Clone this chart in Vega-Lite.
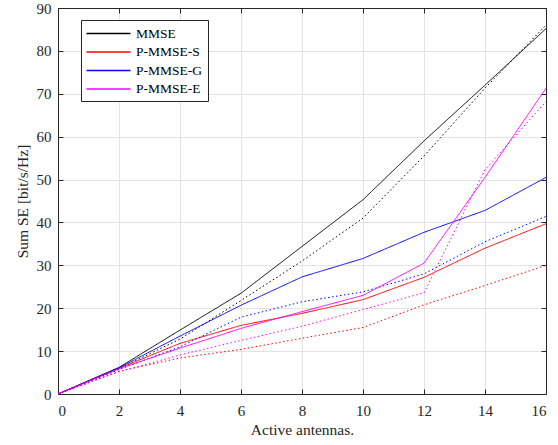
{
  "$schema": "https://vega.github.io/schema/vega-lite/v6.json",
  "autosize": "none",
  "width": 488,
  "height": 386,
  "padding": {"left": 58, "top": 8, "right": 12, "bottom": 51},
  "background": "white",
  "config": {
    "view": {"stroke": "#262626", "strokeWidth": 1},
    "font": "Liberation Serif",
    "axis": {
      "labelFont": "Liberation Serif",
      "titleFont": "Liberation Serif",
      "labelFontSize": 15,
      "titleFontSize": 15.5,
      "labelColor": "#262626",
      "titleColor": "#262626",
      "titleFontWeight": "normal",
      "domainColor": "#262626",
      "tickColor": "#262626",
      "gridColor": "#e3e3e3",
      "gridWidth": 1
    }
  },
  "data": {
    "values": [
      {"x": 0, "y": 0, "method": "MMSE", "kind": "solid"},
      {"x": 2, "y": 6.2, "method": "MMSE", "kind": "solid"},
      {"x": 4, "y": 14.9, "method": "MMSE", "kind": "solid"},
      {"x": 6, "y": 23.5, "method": "MMSE", "kind": "solid"},
      {"x": 8, "y": 34.4, "method": "MMSE", "kind": "solid"},
      {"x": 10, "y": 45.3, "method": "MMSE", "kind": "solid"},
      {"x": 12, "y": 59.0, "method": "MMSE", "kind": "solid"},
      {"x": 14, "y": 72.0, "method": "MMSE", "kind": "solid"},
      {"x": 16, "y": 85.2, "method": "MMSE", "kind": "solid"},
      {"x": 0, "y": 0, "method": "MMSE", "kind": "dotted"},
      {"x": 2, "y": 5.9, "method": "MMSE", "kind": "dotted"},
      {"x": 4, "y": 12.8, "method": "MMSE", "kind": "dotted"},
      {"x": 6, "y": 21.8, "method": "MMSE", "kind": "dotted"},
      {"x": 8, "y": 31.0, "method": "MMSE", "kind": "dotted"},
      {"x": 10, "y": 41.0, "method": "MMSE", "kind": "dotted"},
      {"x": 12, "y": 55.5, "method": "MMSE", "kind": "dotted"},
      {"x": 14, "y": 71.3, "method": "MMSE", "kind": "dotted"},
      {"x": 16, "y": 86.0, "method": "MMSE", "kind": "dotted"},
      {"x": 0, "y": 0, "method": "P-MMSE-S", "kind": "solid"},
      {"x": 2, "y": 6.0, "method": "P-MMSE-S", "kind": "solid"},
      {"x": 4, "y": 11.8, "method": "P-MMSE-S", "kind": "solid"},
      {"x": 6, "y": 16.0, "method": "P-MMSE-S", "kind": "solid"},
      {"x": 8, "y": 18.8, "method": "P-MMSE-S", "kind": "solid"},
      {"x": 10, "y": 22.0, "method": "P-MMSE-S", "kind": "solid"},
      {"x": 12, "y": 27.2, "method": "P-MMSE-S", "kind": "solid"},
      {"x": 14, "y": 34.0, "method": "P-MMSE-S", "kind": "solid"},
      {"x": 16, "y": 39.7, "method": "P-MMSE-S", "kind": "solid"},
      {"x": 0, "y": 0, "method": "P-MMSE-S", "kind": "dotted"},
      {"x": 2, "y": 5.3, "method": "P-MMSE-S", "kind": "dotted"},
      {"x": 4, "y": 8.4, "method": "P-MMSE-S", "kind": "dotted"},
      {"x": 6, "y": 10.4, "method": "P-MMSE-S", "kind": "dotted"},
      {"x": 8, "y": 13.0, "method": "P-MMSE-S", "kind": "dotted"},
      {"x": 10, "y": 15.5, "method": "P-MMSE-S", "kind": "dotted"},
      {"x": 12, "y": 20.8, "method": "P-MMSE-S", "kind": "dotted"},
      {"x": 14, "y": 25.3, "method": "P-MMSE-S", "kind": "dotted"},
      {"x": 16, "y": 30.0, "method": "P-MMSE-S", "kind": "dotted"},
      {"x": 0, "y": 0, "method": "P-MMSE-G", "kind": "solid"},
      {"x": 2, "y": 6.1, "method": "P-MMSE-G", "kind": "solid"},
      {"x": 4, "y": 13.5, "method": "P-MMSE-G", "kind": "solid"},
      {"x": 6, "y": 20.7, "method": "P-MMSE-G", "kind": "solid"},
      {"x": 8, "y": 27.3, "method": "P-MMSE-G", "kind": "solid"},
      {"x": 10, "y": 31.6, "method": "P-MMSE-G", "kind": "solid"},
      {"x": 12, "y": 37.7, "method": "P-MMSE-G", "kind": "solid"},
      {"x": 14, "y": 42.8, "method": "P-MMSE-G", "kind": "solid"},
      {"x": 16, "y": 50.5, "method": "P-MMSE-G", "kind": "solid"},
      {"x": 0, "y": 0, "method": "P-MMSE-G", "kind": "dotted"},
      {"x": 2, "y": 5.7, "method": "P-MMSE-G", "kind": "dotted"},
      {"x": 4, "y": 11.0, "method": "P-MMSE-G", "kind": "dotted"},
      {"x": 6, "y": 17.9, "method": "P-MMSE-G", "kind": "dotted"},
      {"x": 8, "y": 21.5, "method": "P-MMSE-G", "kind": "dotted"},
      {"x": 10, "y": 23.8, "method": "P-MMSE-G", "kind": "dotted"},
      {"x": 12, "y": 28.0, "method": "P-MMSE-G", "kind": "dotted"},
      {"x": 14, "y": 35.5, "method": "P-MMSE-G", "kind": "dotted"},
      {"x": 16, "y": 41.4, "method": "P-MMSE-G", "kind": "dotted"},
      {"x": 0, "y": 0, "method": "P-MMSE-E", "kind": "solid"},
      {"x": 2, "y": 5.9, "method": "P-MMSE-E", "kind": "solid"},
      {"x": 4, "y": 10.7, "method": "P-MMSE-E", "kind": "solid"},
      {"x": 6, "y": 15.3, "method": "P-MMSE-E", "kind": "solid"},
      {"x": 8, "y": 19.2, "method": "P-MMSE-E", "kind": "solid"},
      {"x": 10, "y": 23.0, "method": "P-MMSE-E", "kind": "solid"},
      {"x": 12, "y": 30.5, "method": "P-MMSE-E", "kind": "solid"},
      {"x": 14, "y": 50.5, "method": "P-MMSE-E", "kind": "solid"},
      {"x": 16, "y": 71.3, "method": "P-MMSE-E", "kind": "solid"},
      {"x": 0, "y": 0, "method": "P-MMSE-E", "kind": "dotted"},
      {"x": 2, "y": 5.2, "method": "P-MMSE-E", "kind": "dotted"},
      {"x": 4, "y": 9.1, "method": "P-MMSE-E", "kind": "dotted"},
      {"x": 6, "y": 12.5, "method": "P-MMSE-E", "kind": "dotted"},
      {"x": 8, "y": 15.8, "method": "P-MMSE-E", "kind": "dotted"},
      {"x": 10, "y": 19.7, "method": "P-MMSE-E", "kind": "dotted"},
      {"x": 12, "y": 23.6, "method": "P-MMSE-E", "kind": "dotted"},
      {"x": 14, "y": 52.3, "method": "P-MMSE-E", "kind": "dotted"},
      {"x": 16, "y": 68.2, "method": "P-MMSE-E", "kind": "dotted"}
    ]
  },
  "layer": [
    {
      "mark": {"type": "line", "strokeWidth": 1, "clip": true},
      "encoding": {
        "x": {
          "field": "x", "type": "quantitative",
          "scale": {"domain": [0, 16], "nice": false, "zero": false},
          "axis": {"values": [0, 2, 4, 6, 8, 10, 12, 14, 16], "title": "Active antennas.", "tickSize": -5, "labelPadding": 14, "titlePadding": 4, "grid": true, "labelFont": "Liberation Serif", "titleFont": "Liberation Serif"}
        },
        "y": {
          "field": "y", "type": "quantitative",
          "scale": {"domain": [0, 90], "nice": false},
          "axis": {"values": [0, 10, 20, 30, 40, 50, 60, 70, 80, 90], "title": "Sum SE [bit/s/Hz]", "tickSize": -5, "labelPadding": 12, "titlePadding": 6, "grid": true, "labelFont": "Liberation Serif", "titleFont": "Liberation Serif"}
        },
        "color": {
          "field": "method", "type": "nominal",
          "scale": {"domain": ["MMSE", "P-MMSE-S", "P-MMSE-G", "P-MMSE-E"], "range": ["#000000", "#ff0000", "#0000ff", "#ff00ff"]},
          "legend": {
            "title": null, "orient": "none", "legendX": 23, "legendY": 12,
            "direction": "vertical",
            "symbolType": "M-3,0H3", "symbolSize": 215, "symbolStrokeWidth": 1.4,
            "symbolOffset": 14,
            "labelFont": "Liberation Serif", "labelFontSize": 13.5, "labelColor": "#000000",
            "labelOffset": 19, "padding": 5, "rowPadding": 3.5,
            "strokeColor": "#262626", "fillColor": "white"
          }
        },
        "strokeDash": {
          "field": "kind", "type": "nominal",
          "scale": {"domain": ["solid", "dotted"], "range": [[1, 0], [1.5, 2.5]]},
          "legend": null
        },
        "detail": {"field": "kind"}
      }
    },
    {
      "mark": {"type": "line", "opacity": 0},
      "encoding": {
        "x": {
          "field": "x", "type": "quantitative",
          "axis": {"orient": "top", "values": [0, 2, 4, 6, 8, 10, 12, 14, 16], "labels": false, "title": null, "grid": false, "tickSize": -5}
        },
        "y": {
          "field": "y", "type": "quantitative",
          "axis": {"orient": "right", "values": [0, 10, 20, 30, 40, 50, 60, 70, 80, 90], "labels": false, "title": null, "grid": false, "tickSize": -5}
        },
        "detail": {"field": "method"}
      }
    }
  ],
  "resolve": {"axis": {"x": "independent", "y": "independent"}}
}
